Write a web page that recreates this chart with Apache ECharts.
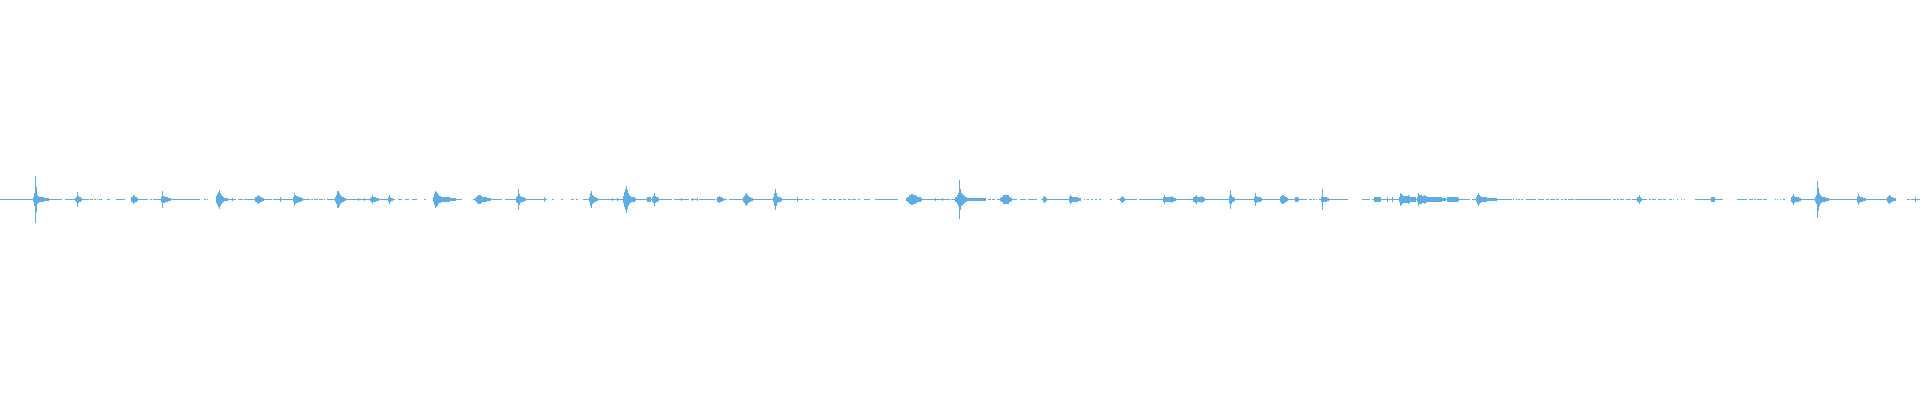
<!DOCTYPE html>
<html>
<head>
<meta charset="utf-8">
<script src="https://cdn.jsdelivr.net/npm/echarts@6/dist/echarts.min.js"></script>
<style>
html,body{margin:0;padding:0;background:#ffffff;}
#chart{width:1920px;height:400px;}
</style>
</head>
<body>
<div id="chart"></div>
<script>
// Waveform: one column per pixel of time, amplitude in per-mille of full scale
const columnCount = 1920;

// columns where the signal is silent (nothing drawn), [start, end)
const silentRanges = [
  [62,65],[89,90],[93,94],[96,97],[98,99],[102,107],[110,116],[125,131],[148,150],[152,153],
  [200,204],[206,207],[208,216],[226,227],[236,238],[243,244],[272,273],[310,311],[313,314],[318,319],
  [323,324],[325,327],[395,398],[402,405],[409,412],[417,424],[426,433],[462,473],[502,505],[547,552],
  [554,561],[563,571],[574,576],[578,583],
  [672,674],[681,682],[689,691],[697,699],[715,716],[727,729],[803,805],[809,812],[814,822],[827,829],
  [832,833],[836,838],[842,843],[846,848],[851,852],[856,858],[860,864],[870,875],[898,907],[950,951],
  [986,988],[991,992],[995,997],[1017,1020],[1026,1028],[1037,1041],[1081,1084],[1085,1087],[1089,1091],
  [1093,1095],[1097,1099],[1101,1110],[1112,1117],[1137,1139],
  [1307,1309],[1312,1313],[1315,1316],[1317,1319],[1348,1362],[1370,1372],[1470,1472],[1512,1513],
  [1514,1516],[1517,1518],[1520,1521],[1523,1526],[1536,1538],[1544,1546],[1549,1550],[1555,1556],
  [1559,1561],[1563,1564],[1567,1568],[1574,1575],
  [1611,1613],[1616,1617],[1619,1620],[1624,1626],[1631,1632],[1647,1649],[1651,1652],[1656,1658],
  [1662,1663],[1666,1669],[1672,1673],[1674,1677],[1678,1681],[1682,1684],[1685,1695],[1723,1737],
  [1747,1749],[1753,1754],[1756,1757],[1762,1763],[1767,1775],[1776,1777],[1778,1780],[1781,1783],
  [1785,1791],[1895,1907],[1910,1911]
];

// first column of each sound event
const eventStart = [
  33, 75, 131, 161, 216, 232, 255, 280, 293, 335, 358, 364, 370, 388, 433, 475, 516, 544, 589, 612, 617, 623,
  647, 652, 681, 692, 697, 717, 743, 773, 797, 906, 935, 942, 955, 1000, 1043, 1069, 1120, 1163, 1193, 1229,
  1254, 1280, 1295, 1321, 1374, 1387, 1392, 1399, 1417, 1447, 1476, 1637, 1711, 1791, 1815, 1857, 1887, 1915
];

// peak amplitude (per-mille) of each column of each event
const eventAmplitude = [
  [10,30,115,60,20,15,10,10,8,8,8,5,5,5,5,5],
  [5,10,35,15,10,8,5],
  [8,12,22,15,10,8,5],
  [10,40,15,15,10,8,8,5,5,5],
  [15,25,35,45,30,20,15,10,6,6,5,5],
  [6],
  [8,10,15,20,15,10,8,5,5],
  [8],
  [10,30,20,15,15,10,10,8,5,5],
  [8,20,38,40,30,20,15,10,8,5,5],
  [5],
  [6],
  [5,10,18,10,8,8,5,5,5],
  [10,22,10,5,5],
  [10,25,40,35,30,20,15,15,12,10,10,10,10,8,8,8,8,5,5,5,5,5,5],
  [5,10,15,18,18,18,15,12,10,8,8,8,5,5,5,5],
  [10,15,50,25,15,12,10,8,5,5],
  [8],
  [10,32,38,20,15,10,8,5,5],
  [5],
  [5],
  [15,35,50,65,45,30,20,15,12,10,8,8,5],
  [8,10,10,8],
  [10,15,30,15,10,8,5],
  [5],
  [5],
  [5],
  [8,10,14,10,8,5,5],
  [8,15,25,28,20,15,10,8,5,5],
  [10,30,50,30,15,12,10,8,5],
  [8],
  [5,8,12,18,22,25,25,22,20,18,15,12,10,8,8,5],
  [5],
  [5],
  [8,10,20,30,95,50,30,25,20,15,10,8,6,6,6,6,6,6,6,6,6,5,5,5,5,6,6,5,5,5,5],
  [5,8,12,18,20,22,22,20,18,12,8,5],
  [8,15,10,5],
  [10,22,15,10,8,8,8,8,8,6,6,5],
  [5,10,15,10,5],
  [8,18,10,8,8,8,10,10,15,10,8,6,6],
  [8,10,15,18,12,10,10,12,15,10,8,5],
  [15,44,20,10,8,5],
  [10,28,15,10,8,8,8,5],
  [8,15,22,22,15,10,8,5],
  [8,12,8,5],
  [8,52,12,10,8,8,5,5],
  [8,12,12,12,12,10,8],
  [8],
  [8],
  [10,30,25,20,15,15,15,15,15,22,15,10,10,10,10,10,10],
  [10,28,22,20,18,15,15,18,15,15,12,10,10,8,10,8,8,10,8,8,8,10,8,8,8,6,6,6,6],
  [8,10,12,12,10,10,12,12,10,8,8,5],
  [10,20,30,20,15,12,10,8,8,8,8,6,6,6,6,6,6,6,6,6,6],
  [8,12,18,10,5],
  [8,8,8,8],
  [8,15,24,15,12,12,10,8,5,5],
  [10,20,92,55,30,20,15,12,10,8,8,6,6,5],
  [8,24,15,10,8,8,5,5,5],
  [10,15,20,15,10,8,6,5,5],
  [8]
];

const waveColor = '#5DADE2';

// build per-column table [column, min, max]
const amp = new Array(columnCount).fill(0);
const silent = new Array(columnCount).fill(false);
silentRanges.forEach(([a, b]) => { for (let i = a; i < b && i < columnCount; i++) silent[i] = true; });
eventStart.forEach((s, k) => {
  eventAmplitude[k].forEach((v, j) => {
    const i = s + j;
    if (i < columnCount) { amp[i] = Math.max(amp[i], v); silent[i] = false; }
  });
});
const columns = [];
for (let i = 0; i < columnCount; i++) {
  if (!silent[i]) columns.push([i, -amp[i], amp[i]]);
}

const chart = echarts.init(document.getElementById('chart'), null, { renderer: 'canvas' });
chart.setOption({
  animation: false,
  backgroundColor: '#ffffff',
  grid: { left: 0, right: 0, top: 0, bottom: 1 },
  xAxis: { type: 'value', min: 0, max: columnCount, show: false },
  yAxis: { type: 'value', min: -1000, max: 1000, show: false },
  series: [{
    type: 'custom',
    encode: { x: 0, y: [1, 2] },
    data: columns,
    renderItem: function (params, api) {
      const x = api.value(0);
      const p0 = api.coord([x, api.value(2)]);
      const p1 = api.coord([x + 1, api.value(1)]);
      const left = Math.round(p0[0]);
      const right = Math.max(left + 1, Math.round(p1[0]));
      const top = Math.floor(p0[1]);
      const bottom = Math.max(top + 1, Math.ceil(p1[1]));
      return {
        type: 'rect',
        shape: { x: left, y: top, width: right - left, height: bottom - top },
        style: { fill: waveColor }
      };
    }
  }]
});
</script>
</body>
</html>
